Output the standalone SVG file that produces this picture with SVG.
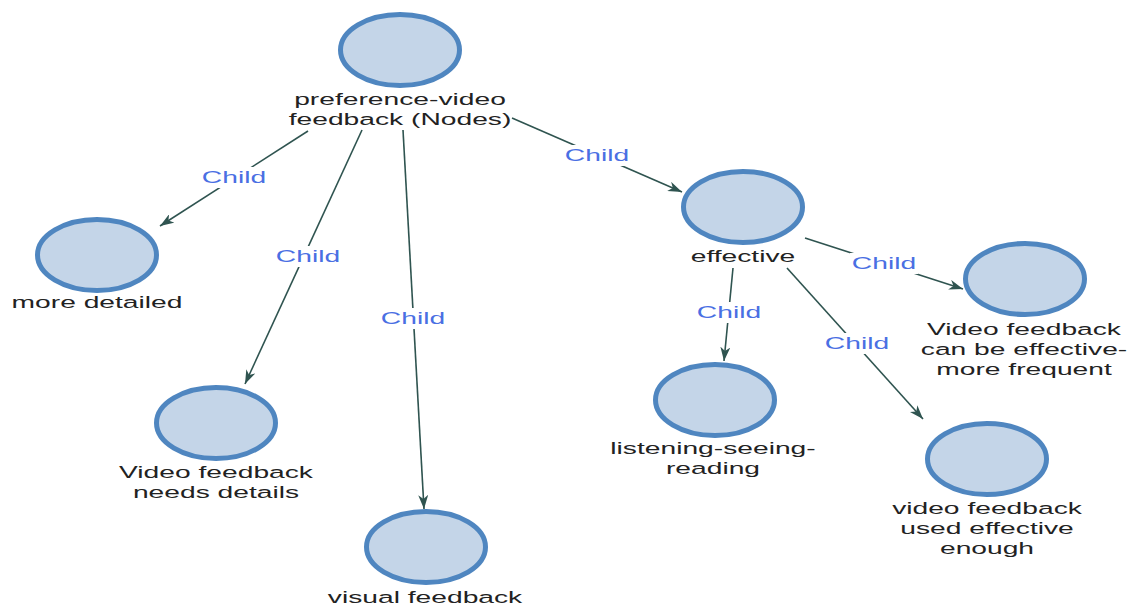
<svg xmlns="http://www.w3.org/2000/svg" width="1132" height="605" viewBox="0 0 1132 605">
  <style>
    .node ellipse { fill: #c4d5e8; stroke: #4f86c0; stroke-width: 5; }
    .node text { font-family: "Liberation Sans", Arial, sans-serif; font-size: 17px; fill: #222222; text-anchor: middle; }
    .edge line { stroke: #2f5450; stroke-width: 1.6; marker-end: url(#arrow); }
    .edge rect { fill: #ffffff; }
    .edge text { font-family: "Liberation Sans", Arial, sans-serif; font-size: 17px; fill: #4a6fe3; text-anchor: middle; }
  </style>
  <defs>
    <marker id="arrow" viewBox="0 0 14 10" refX="14" refY="5" markerWidth="14" markerHeight="10" markerUnits="userSpaceOnUse" orient="auto">
      <path d="M0,0 L14,5 L0,10 L4,5 Z" fill="#2f5450"/>
    </marker>
  </defs>
  <rect width="1132" height="605" fill="#ffffff"/>

  <!-- connectors -->
  <g id="connectors">
    <g class="edge" id="e-root-detailed">
      <line x1="308" y1="131" x2="160" y2="226"/>
      <rect x="200" y="167" width="68" height="21"/>
      <text transform="matrix(1.66 0 0 1 234 0)" x="0" y="183">Child</text>
    </g>
    <g class="edge" id="e-root-needs">
      <line x1="362" y1="130" x2="245" y2="384"/>
      <rect x="274" y="246" width="68" height="21"/>
      <text transform="matrix(1.66 0 0 1 308 0)" x="0" y="262">Child</text>
    </g>
    <g class="edge" id="e-root-visual">
      <line x1="403" y1="130" x2="424" y2="509"/>
      <rect x="379" y="308" width="68" height="21"/>
      <text transform="matrix(1.66 0 0 1 413 0)" x="0" y="324">Child</text>
    </g>
    <g class="edge" id="e-root-effective">
      <line x1="512" y1="118" x2="682" y2="192"/>
      <rect x="563" y="145" width="68" height="21"/>
      <text transform="matrix(1.66 0 0 1 597 0)" x="0" y="161">Child</text>
    </g>
    <g class="edge" id="e-effective-frequent">
      <line x1="805" y1="238" x2="963" y2="289"/>
      <rect x="850" y="253" width="68" height="21"/>
      <text transform="matrix(1.66 0 0 1 884 0)" x="0" y="269">Child</text>
    </g>
    <g class="edge" id="e-effective-listening">
      <line x1="733" y1="268" x2="724" y2="361"/>
      <rect x="695" y="302" width="68" height="21"/>
      <text transform="matrix(1.66 0 0 1 729 0)" x="0" y="318">Child</text>
    </g>
    <g class="edge" id="e-effective-enough">
      <line x1="787" y1="268" x2="923" y2="419"/>
      <rect x="823" y="333" width="68" height="21"/>
      <text transform="matrix(1.66 0 0 1 857 0)" x="0" y="349">Child</text>
    </g>
  </g>

  <!-- nodes -->
  <g class="node" id="n-root">
    <ellipse cx="400" cy="50" rx="59.5" ry="35.5"/>
    <text transform="matrix(1.66 0 0 1 400 0)" x="0" y="105">preference-video</text>
    <text transform="matrix(1.66 0 0 1 400 0)" x="0" y="125">feedback (Nodes)</text>
  </g>
  <g class="node" id="n-more-detailed">
    <ellipse cx="97" cy="255" rx="59.5" ry="35.5"/>
    <text transform="matrix(1.66 0 0 1 97 0)" x="0" y="308">more detailed</text>
  </g>
  <g class="node" id="n-needs-details">
    <ellipse cx="216" cy="423" rx="59.5" ry="35.5"/>
    <text transform="matrix(1.66 0 0 1 216 0)" x="0" y="478">Video feedback</text>
    <text transform="matrix(1.66 0 0 1 216 0)" x="0" y="498">needs details</text>
  </g>
  <g class="node" id="n-visual">
    <ellipse cx="426" cy="547" rx="59.5" ry="35.5"/>
    <text transform="matrix(1.66 0 0 1 425 0)" x="0" y="603">visual feedback</text>
  </g>
  <g class="node" id="n-effective">
    <ellipse cx="743" cy="207" rx="59.5" ry="35.5"/>
    <text transform="matrix(1.66 0 0 1 743 0)" x="0" y="262">effective</text>
  </g>
  <g class="node" id="n-frequent">
    <ellipse cx="1025" cy="279" rx="59.5" ry="35.5"/>
    <text transform="matrix(1.66 0 0 1 1024 0)" x="0" y="335">Video feedback</text>
    <text transform="matrix(1.66 0 0 1 1024 0)" x="0" y="355">can be effective-</text>
    <text transform="matrix(1.66 0 0 1 1024 0)" x="0" y="375">more frequent</text>
  </g>
  <g class="node" id="n-listening">
    <ellipse cx="715" cy="400" rx="59.5" ry="35.5"/>
    <text transform="matrix(1.66 0 0 1 713 0)" x="0" y="454">listening-seeing-</text>
    <text transform="matrix(1.66 0 0 1 713 0)" x="0" y="474">reading</text>
  </g>
  <g class="node" id="n-enough">
    <ellipse cx="987" cy="459" rx="59.5" ry="35.5"/>
    <text transform="matrix(1.66 0 0 1 987 0)" x="0" y="514">video feedback</text>
    <text transform="matrix(1.66 0 0 1 987 0)" x="0" y="534">used effective</text>
    <text transform="matrix(1.66 0 0 1 987 0)" x="0" y="554">enough</text>
  </g>
</svg>
